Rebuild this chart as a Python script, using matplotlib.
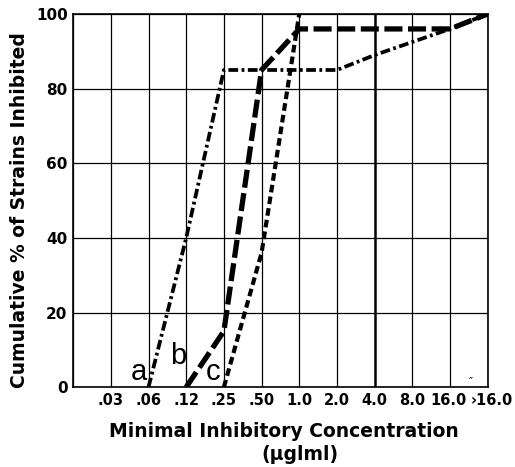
import matplotlib.pyplot as plt
from matplotlib.transforms import ScaledTranslation

plt.rcParams['lines.scale_dashes'] = False

# MIC categories (one grid column each, first column is empty)
mic_labels = ['.03', '.06', '.12', '.25', '.50', '1.0', '2.0', '4.0',
              '8.0', '16.0', '\u203a16.0']
y_ticks = [0, 20, 40, 60, 80, 100]

# cumulative % inhibited, by category index
a_x = [2, 3, 4, 7, 8, 10, 11]
a_y = [0, 40, 85, 85, 89, 96, 100]
b_x = [3, 4, 5, 6, 10, 11]
b_y = [0, 15, 85, 96, 96, 100]
c_x = [4, 5, 6]
c_y = [0, 36, 100]

fig = plt.figure(figsize=(5.15, 4.67), dpi=100)
ax = fig.add_axes([0.142, 0.171, 0.805, 0.799])

n = len(mic_labels)
# grid
for i in range(n + 1):
    ax.axvline(i, color='black', lw=1.8 if i == 8 else 0.9, zorder=1)
for y in y_ticks:
    ax.axhline(y, color='black', lw=0.9, zorder=1)

ax.plot(a_x, a_y, color='black', lw=2.7, dashes=(7, 2.5, 2, 2.5),
        solid_capstyle='butt', zorder=3)
ax.plot(b_x, b_y, color='black', lw=3.8, dashes=(13, 4),
        solid_capstyle='butt', zorder=3)
ax.plot(c_x, c_y, color='black', lw=3.0, dashes=(5.5, 3),
        solid_capstyle='butt', zorder=3)

ax.set_xlim(0, n)
ax.set_ylim(0, 100)
ax.set_xticks(range(1, n + 1))
ax.set_xticklabels(mic_labels, fontweight='bold', fontsize=10.5)
ax.set_yticks(y_ticks)
ax.set_yticklabels([str(v) for v in y_ticks], fontweight='bold', fontsize=11)
ax.tick_params(length=0, pad=4)
# push the last two labels apart a little
labs = ax.get_xticklabels()
labs[-1].set_transform(labs[-1].get_transform()
                       + ScaledTranslation(4 / 100, 0, fig.dpi_scale_trans))
labs[-2].set_transform(labs[-2].get_transform()
                       + ScaledTranslation(-2 / 100, 0, fig.dpi_scale_trans))
for s in ax.spines.values():
    s.set_linewidth(1.2)

# curve letters
for lab, x, y in [('a', 1.75, 0.3), ('b', 2.78, 4.5), ('c', 3.72, 0.3)]:
    ax.text(x, y, lab, fontsize=21, family='Liberation Sans',
            ha='center', va='bottom', zorder=4)
ax.text(10.55, 0.3, '\u2033', fontsize=8, ha='center', va='bottom')

fig.text(0.552, 0.077, 'Minimal Inhibitory Concentration', ha='center',
         va='center', fontsize=13.5, fontweight='bold')
fig.text(0.583, 0.027, '(\u03bcglml)', ha='center', va='center',
         fontsize=13.5, fontweight='bold')
fig.text(0.037, 0.55, 'Cumulative % of Strains Inhibited', ha='center',
         va='center', rotation=90, fontsize=13.5, fontweight='bold')

fig.savefig('out.png', dpi=100)
